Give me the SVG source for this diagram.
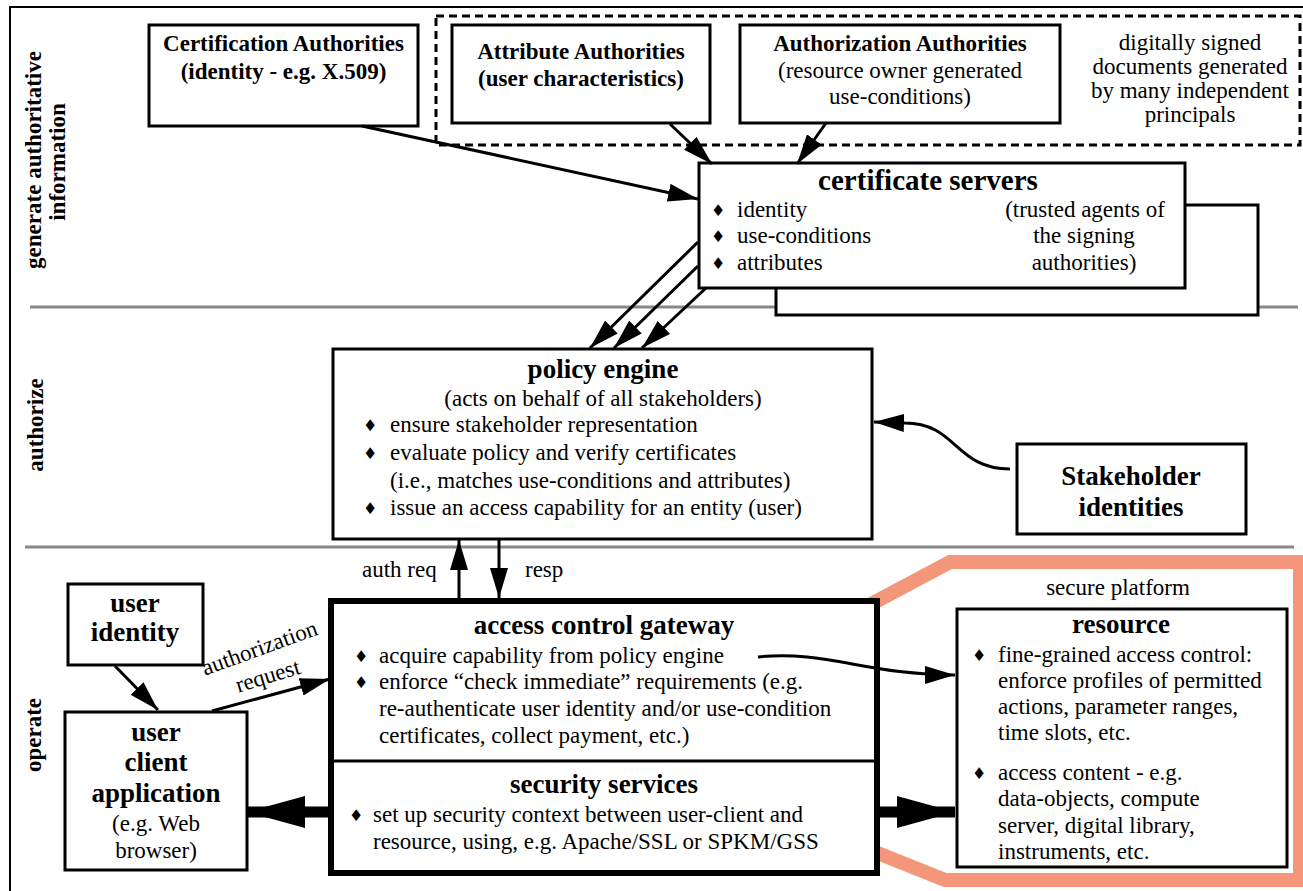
<svg xmlns="http://www.w3.org/2000/svg" width="1303" height="891" viewBox="0 0 1303 891">
  <defs>
    <style>
      .box { fill: #fff; stroke: #000; stroke-width: 3; }
      .thick { fill: #fff; stroke: #000; stroke-width: 6; }
      .dash { fill: none; stroke: #000; stroke-width: 3; stroke-dasharray: 8 5; }
      .sep { stroke: #888; stroke-width: 3; }
      .line { fill: none; stroke: #000; stroke-width: 3; }
      .fat { fill: none; stroke: #000; stroke-width: 11; }
      text { font-family: "Liberation Serif", "Times New Roman", serif; font-size: 23px; fill: #000; }
      .b { font-weight: bold; }
      .h { font-weight: bold; font-size: 27px; }
      .c { text-anchor: middle; }
      .d { font-family: "DejaVu Sans", sans-serif; font-size: 16px; }
    </style>
    <marker id="ah" markerUnits="userSpaceOnUse" markerWidth="30" markerHeight="18" refX="30" refY="9" orient="auto">
      <path d="M0,0 L30,9 L0,18 z" fill="#000"/>
    </marker>
    <marker id="ahBig" markerUnits="userSpaceOnUse" markerWidth="58" markerHeight="32" refX="58" refY="16" orient="auto">
      <path d="M0,0 L58,16 L0,32 z" fill="#000"/>
    </marker>
  </defs>

  <rect width="1303" height="891" fill="#fff"/>

  <!-- frame and band separators -->
  <g id="frame">
    <path d="M10,891 L10,7 L1303,7" fill="none" stroke="#000" stroke-width="2"/>
    <line class="sep" x1="30" y1="307" x2="1298" y2="307"/>
    <line class="sep" x1="25" y1="547" x2="1294" y2="547"/>
  </g>

  <!-- band labels -->
  <g id="band-labels">
    <text class="b c" transform="translate(41,160) rotate(-90)">generate authoritative</text>
    <text class="b c" transform="translate(65,162) rotate(-90)">information</text>
    <text class="b c" transform="translate(43,425) rotate(-90)">authorize</text>
    <text class="b c" transform="translate(41,735) rotate(-90)">operate</text>
  </g>

  <!-- signed-documents group -->
  <g id="signing-group">
    <rect class="dash" x="436" y="16" width="864" height="129"/>
    <text class="c" x="1190" y="50">digitally signed</text>
    <text class="c" x="1190" y="74">documents generated</text>
    <text class="c" x="1190" y="98">by many independent</text>
    <text class="c" x="1190" y="122">principals</text>
  </g>

  <g id="certification-authorities">
    <rect class="box" x="149" y="25" width="269" height="101"/>
    <text class="b c" x="283.5" y="51">Certification Authorities</text>
    <text class="b c" x="283.5" y="79">(identity - e.g. X.509)</text>
  </g>

  <g id="attribute-authorities">
    <rect class="box" x="452" y="25" width="258" height="98"/>
    <text class="b c" x="581" y="59">Attribute Authorities</text>
    <text class="b c" x="581" y="86">(user characteristics)</text>
  </g>

  <g id="authorization-authorities">
    <rect class="box" x="740" y="25" width="320" height="98"/>
    <text class="b c" x="900" y="51">Authorization Authorities</text>
    <text class="c" x="900" y="78">(resource owner generated</text>
    <text class="c" x="900" y="104">use-conditions)</text>
  </g>

  <g id="certificate-servers">
    <rect class="box" x="776" y="205" width="482" height="110"/>
    <rect class="box" x="699" y="163" width="486" height="125"/>
    <text class="b c" style="font-size:29px" x="928" y="190">certificate servers</text>
    <text class="d" x="711" y="216">♦</text>
    <text x="737" y="217">identity</text>
    <text class="d" x="711" y="242">♦</text>
    <text x="737" y="243">use-conditions</text>
    <text class="d" x="711" y="269">♦</text>
    <text x="737" y="270">attributes</text>
    <text class="c" x="1085" y="217">(trusted agents of</text>
    <text class="c" x="1084" y="243">the signing</text>
    <text class="c" x="1084" y="270">authorities)</text>
  </g>

  <g id="policy-engine">
    <rect class="box" x="333" y="349" width="539" height="190"/>
    <text class="h c" x="603" y="378">policy engine</text>
    <text class="c" x="603" y="406">(acts on behalf of all stakeholders)</text>
    <text class="d" x="363" y="431">♦</text>
    <text x="390" y="432">ensure stakeholder representation</text>
    <text class="d" x="363" y="459">♦</text>
    <text x="390" y="460">evaluate policy and verify certificates</text>
    <text x="390" y="488">(i.e., matches use-conditions and attributes)</text>
    <text class="d" x="363" y="514">♦</text>
    <text x="390" y="515">issue an access capability for an entity (user)</text>
  </g>

  <g id="stakeholder-identities">
    <rect class="box" x="1017" y="444" width="229" height="90"/>
    <text class="h c" x="1131" y="485">Stakeholder</text>
    <text class="h c" x="1131" y="516">identities</text>
  </g>

  <g id="user-identity">
    <rect class="box" x="68" y="584" width="135" height="81"/>
    <text class="h c" x="135" y="612">user</text>
    <text class="h c" x="135" y="641">identity</text>
  </g>

  <g id="user-client">
    <rect class="box" x="65" y="712" width="182" height="158"/>
    <text class="h c" x="156" y="741">user</text>
    <text class="h c" x="156" y="771">client</text>
    <text class="h c" x="156" y="802">application</text>
    <text class="c" x="156" y="831">(e.g. Web</text>
    <text class="c" x="156" y="858">browser)</text>
  </g>

  <!-- secure platform outline -->
  <g id="secure-platform">
    <path d="M860,610 L950,562 L1300,562 L1300,880 L945,880 L860,846" fill="none" stroke="#f3967a" stroke-width="14" stroke-linejoin="miter"/>
    <text class="c" x="1118" y="595">secure platform</text>
  </g>

  <g id="resource">
    <rect class="box" x="957" y="609" width="330" height="258"/>
    <text class="h c" x="1121" y="633">resource</text>
    <text class="d" x="972" y="661">♦</text>
    <text x="998" y="662">fine-grained access control:</text>
    <text x="998" y="688">enforce profiles of permitted</text>
    <text x="998" y="714">actions, parameter ranges,</text>
    <text x="998" y="740">time slots, etc.</text>
    <text class="d" x="972" y="779">♦</text>
    <text x="998" y="780">access content - e.g.</text>
    <text x="998" y="806">data-objects, compute</text>
    <text x="998" y="833">server, digital library,</text>
    <text x="998" y="859">instruments, etc.</text>
  </g>

  <g id="access-control-gateway">
    <rect class="thick" x="331" y="601" width="546" height="272"/>
    <line x1="331" y1="761" x2="877" y2="761" stroke="#000" stroke-width="3"/>
    <text class="h c" x="604" y="634">access control gateway</text>
    <text class="d" x="354" y="662">♦</text>
    <text x="379" y="663">acquire capability from policy engine</text>
    <text class="d" x="354" y="688">♦</text>
    <text x="379" y="689">enforce “check immediate” requirements (e.g.</text>
    <text x="379" y="716">re-authenticate user identity and/or use-condition</text>
    <text x="379" y="743">certificates, collect payment, etc.)</text>
    <text class="h c" x="604" y="793">security services</text>
    <text class="d" x="349" y="821">♦</text>
    <text x="373" y="822">set up security context between user-client and</text>
    <text x="373" y="849">resource, using, e.g. Apache/SSL or SPKM/GSS</text>
  </g>

  <!-- connectors -->
  <g id="connectors">
    <line class="line" x1="362" y1="126" x2="698" y2="199" marker-end="url(#ah)"/>
    <line class="line" x1="670" y1="124" x2="712" y2="164" marker-end="url(#ah)"/>
    <line class="line" x1="826" y1="123" x2="797" y2="164" marker-end="url(#ah)"/>
    <line class="line" x1="698" y1="242" x2="590" y2="348" marker-end="url(#ah)"/>
    <line class="line" x1="698" y1="266" x2="614" y2="348" marker-end="url(#ah)"/>
    <line class="line" x1="706" y1="288" x2="642" y2="348" marker-end="url(#ah)"/>
    <path class="line" d="M1010,469 C955,469 957,423 905,423 L874,422" marker-end="url(#ah)"/>
    <line class="line" x1="459" y1="598" x2="459" y2="540" marker-end="url(#ah)"/>
    <line class="line" x1="499" y1="540" x2="499" y2="598" marker-end="url(#ah)"/>
    <text x="362" y="577">auth req</text>
    <text x="525" y="577">resp</text>
    <line class="line" x1="115" y1="666" x2="158" y2="710" marker-end="url(#ah)"/>
    <line class="line" x1="212" y1="711" x2="330" y2="679" marker-end="url(#ah)"/>
    <text class="c" transform="translate(262,655) rotate(-20)">authorization</text>
    <text class="c" transform="translate(270,683) rotate(-17)">request</text>
    <line class="fat" x1="328" y1="812" x2="247" y2="812" marker-end="url(#ahBig)"/>
    <line class="fat" x1="880" y1="812" x2="955" y2="812" marker-end="url(#ahBig)"/>
    <path class="line" d="M758,657 C825,650 868,675 955,675" marker-end="url(#ah)"/>
  </g>
</svg>
